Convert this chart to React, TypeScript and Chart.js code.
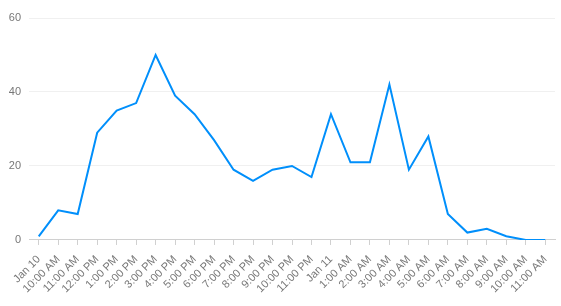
import React, { useEffect, useRef } from "react";
import { Chart, registerables } from "chart.js";

Chart.register(...registerables);

const categories = [
  "Jan 10", "10:00 AM", "11:00 AM", "12:00 PM", "1:00 PM", "2:00 PM", "3:00 PM",
  "4:00 PM", "5:00 PM", "6:00 PM", "7:00 PM", "8:00 PM", "9:00 PM", "10:00 PM",
  "11:00 PM", "Jan 11", "1:00 AM", "2:00 AM", "3:00 AM", "4:00 AM", "5:00 AM",
  "6:00 AM", "7:00 AM", "8:00 AM", "9:00 AM", "10:00 AM", "11:00 AM",
];

const seriesValues = [
  1, 8, 7, 29, 35, 37, 50, 39, 34, 27, 19, 16, 19, 20, 17, 34, 21, 21, 42, 19, 28,
  7, 2, 3, 1, 0, 0,
];

const yTicks = [0, 20, 40, 60];

export default function App() {
  const ref = useRef<HTMLCanvasElement | null>(null);

  useEffect(() => {
    document.body.style.margin = "0";
    const ctx = ref.current;
    if (!ctx) return;
    const chart = new Chart(ctx, {
      type: "line",
      data: {
        labels: categories,
        datasets: [
          {
            data: seriesValues,
            borderColor: "#008FFB",
            borderWidth: 2,
            pointRadius: 0,
            tension: 0,
            fill: false,
          },
        ],
      },
      options: {
        animation: false,
        responsive: false,
        maintainAspectRatio: false,
        layout: { padding: { top: 18, right: 6, left: 8, bottom: 2.4 } },
        plugins: { legend: { display: false }, tooltip: { enabled: false } },
        scales: {
          x: {
            offset: true,
            afterFit: (axis: any) => {
              axis.paddingLeft = 0;
              axis.paddingRight = 0;
            },
            grid: {
              offset: false,
              drawOnChartArea: false,
              drawTicks: true,
              tickLength: 5,
              color: "#d0d0d0",
            },
            border: { display: true, color: "#d0d0d0" },
            ticks: {
              autoSkip: false,
              minRotation: 45,
              maxRotation: 45,
              padding: 8,
              color: "#777",
              font: { family: "Liberation Sans, Arial, sans-serif", size: 11 },
            },
          },
          y: {
            min: yTicks[0],
            max: yTicks[yTicks.length - 1],
            afterBuildTicks: (axis: any) => {
              axis.ticks = yTicks.map((v) => ({ value: v }));
            },
            afterFit: (axis: any) => {
              axis.width = 21;
            },
            grid: { color: "#f0f0f0", drawTicks: false, tickLength: 0 },
            border: { display: false },
            ticks: {
              padding: 8,
              color: "#777",
              font: { family: "Liberation Sans, Arial, sans-serif", size: 11 },
            },
          },
        },
      },
    });
    return () => chart.destroy();
  }, []);

  return (
    <div style={{ position: "fixed", left: 0, top: 0, width: 561, height: 306 }}>
      <canvas ref={ref} width={561} height={306} style={{ width: 561, height: 306 }} />
    </div>
  );
}
